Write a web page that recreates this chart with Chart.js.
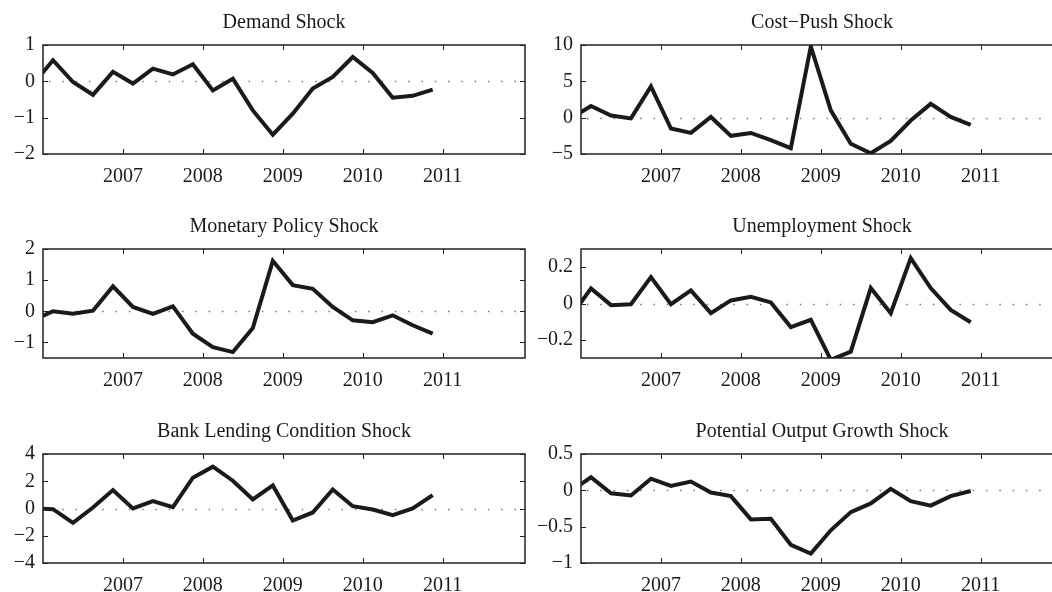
<!DOCTYPE html>
<html>
<head>
<meta charset="utf-8">
<title>Shock decomposition</title>
<script src="https://cdn.jsdelivr.net/npm/chart.js@4.4.1/dist/chart.umd.min.js"></script>
<style>
  html, body { margin: 0; padding: 0; background: #fff; }
  #figure { position: relative; width: 1052px; height: 592px; overflow: hidden; }
  #figure canvas { position: absolute; }
</style>
</head>
<body>
<div id="figure">
  <canvas id="demandChart" width="526" height="194" style="left:0px;top:0px"></canvas>
  <canvas id="costPushChart" width="526" height="194" style="left:538px;top:0px"></canvas>
  <canvas id="monetaryChart" width="526" height="194" style="left:0px;top:204px"></canvas>
  <canvas id="unemploymentChart" width="526" height="194" style="left:538px;top:204px"></canvas>
  <canvas id="bankLendingChart" width="526" height="194" style="left:0px;top:409px"></canvas>
  <canvas id="potentialChart" width="526" height="194" style="left:538px;top:409px"></canvas>
</div>
<script>
// quarter mid-points, first one sits just left of the axes
const quarters = [
  2005.875, 2006.125, 2006.375, 2006.625, 2006.875, 2007.125, 2007.375,
  2007.625, 2007.875, 2008.125, 2008.375, 2008.625, 2008.875, 2009.125,
  2009.375, 2009.625, 2009.875, 2010.125, 2010.375, 2010.625, 2010.875,
];
const yearTicks = [2007, 2008, 2009, 2010, 2011];

const demandShock = [-0.08, 0.58, -0.02, -0.37, 0.26, -0.06, 0.35, 0.19, 0.47, -0.25, 0.07, -0.8, -1.47, -0.89, -0.2, 0.12, 0.67, 0.23, -0.45, -0.4, -0.23];
const costPushShock = [-0.1, 1.6, 0.3, -0.1, 4.3, -1.5, -2.1, 0.1, -2.5, -2.1, -3.1, -4.2, 9.8, 1.0, -3.6, -4.9, -3.2, -0.4, 1.9, 0.1, -1.0];
const monetaryShock = [-0.29, 0.0, -0.08, 0.02, 0.8, 0.14, -0.08, 0.16, -0.72, -1.15, -1.31, -0.54, 1.62, 0.84, 0.72, 0.14, -0.29, -0.35, -0.13, -0.45, -0.72];
const unemploymentShock = [-0.07, 0.083, -0.009, -0.004, 0.145, -0.004, 0.072, -0.053, 0.017, 0.037, 0.006, -0.13, -0.09, -0.31, -0.265, 0.085, -0.053, 0.25, 0.085, -0.035, -0.103];
const bankLendingShock = [0.02, -0.05, -1.05, 0.07, 1.35, 0.0, 0.54, 0.1, 2.26, 3.07, 2.04, 0.66, 1.69, -0.88, -0.29, 1.4, 0.17, -0.07, -0.49, 0.0, 0.98];
const potentialShock = [-0.01, 0.18, -0.04, -0.07, 0.16, 0.06, 0.12, -0.03, -0.08, -0.4, -0.39, -0.75, -0.87, -0.55, -0.3, -0.18, 0.02, -0.15, -0.21, -0.08, -0.01];

const demandTicks = [-2, -1, 0, 1];
const costPushTicks = [-5, 0, 5, 10];
const monetaryTicks = [-1, 0, 1, 2];
const unemploymentTicks = [-0.2, 0, 0.2];
const bankLendingTicks = [-4, -2, 0, 2, 4];
const potentialTicks = [-1, -0.5, 0, 0.5];

const panels = [
  { id: "demandChart", title: "Demand Shock", values: demandShock, ticks: demandTicks, min: -2, max: 1 },
  { id: "costPushChart", title: "Cost\u2212Push Shock", values: costPushShock, ticks: costPushTicks, min: -5, max: 10 },
  { id: "monetaryChart", title: "Monetary Policy Shock", values: monetaryShock, ticks: monetaryTicks, min: -1.5, max: 2 },
  { id: "unemploymentChart", title: "Unemployment Shock", values: unemploymentShock, ticks: unemploymentTicks, min: -0.3, max: 0.3 },
  { id: "bankLendingChart", title: "Bank Lending Condition Shock", values: bankLendingShock, ticks: bankLendingTicks, min: -4, max: 4 },
  { id: "potentialChart", title: "Potential Output Growth Shock", values: potentialShock, ticks: potentialTicks, min: -1, max: 0.5 },
];

const INK = "#1a1a1a";
const FONT = { family: "'Liberation Serif', 'Times New Roman', serif", size: 20 };

// matlab style box: dotted zero line, frame and inward ticks
const boxPlugin = {
  id: "matlabBox",
  beforeDatasetsDraw(chart) {
    const { ctx, chartArea: a } = chart;
    const y0 = Math.round(chart.scales.y.getPixelForValue(0)) + 0.5;
    ctx.save();
    ctx.strokeStyle = "#777";
    ctx.lineWidth = 1.5;
    ctx.setLineDash([1.5, 11.8]);
    ctx.beginPath();
    ctx.moveTo(a.left + 6, y0);
    ctx.lineTo(a.right, y0);
    ctx.stroke();
    ctx.restore();
  },
  afterDatasetsDraw(chart) {
    const { ctx, chartArea: a, scales } = chart;
    const len = 5;
    ctx.save();
    ctx.strokeStyle = "#222";
    ctx.lineWidth = 1;
    ctx.beginPath();
    scales.x.ticks.forEach((t) => {
      const px = Math.round(scales.x.getPixelForValue(t.value)) + 0.5;
      ctx.moveTo(px, a.top);
      ctx.lineTo(px, a.top + len);
      ctx.moveTo(px, a.bottom);
      ctx.lineTo(px, a.bottom - len);
    });
    scales.y.ticks.forEach((t) => {
      const py = Math.round(scales.y.getPixelForValue(t.value)) + 0.5;
      ctx.moveTo(a.left, py);
      ctx.lineTo(a.left + len, py);
      ctx.moveTo(a.right, py);
      ctx.lineTo(a.right - len, py);
    });
    ctx.stroke();
    ctx.lineWidth = 1.5;
    ctx.strokeRect(a.left, a.top, a.right - a.left, a.bottom - a.top);
    ctx.restore();
  },
};

function formatTick(v) {
  return String(v).replace("-", "\u2212");
}

function buildPanel(panel) {
  const canvas = document.getElementById(panel.id);
  if (!canvas) return;

  return new Chart(canvas.getContext("2d"), {
    type: "line",
    data: {
      datasets: [
        {
          data: quarters.map((q, i) => ({ x: q, y: panel.values[i] })),
          borderColor: INK,
          borderWidth: 4,
          borderJoinStyle: "miter",
          pointRadius: 0,
          tension: 0,
          clip: 0,
        },
      ],
    },
    options: {
      responsive: false,
      animation: false,
      events: [],
      layout: { padding: { left: 0, right: 1, top: 0, bottom: 0 } },
      plugins: {
        legend: { display: false },
        tooltip: { enabled: false },
        title: {
          display: true,
          text: panel.title,
          fullSize: false,
          color: INK,
          font: { ...FONT, weight: "normal", lineHeight: 1.2 },
          padding: { top: 11, bottom: 10 },
        },
      },
      scales: {
        x: {
          type: "linear",
          min: 2006,
          max: 2012.03,
          grid: { display: false, drawTicks: false },
          border: { display: false },
          afterBuildTicks: (s) => {
            s.ticks = yearTicks.map((v) => ({ value: v }));
          },
          afterFit: (s) => {
            s.height = 40;
          },
          ticks: {
            color: INK,
            font: FONT,
            padding: 11,
            maxRotation: 0,
            autoSkip: false,
            callback: (v) => String(v),
          },
        },
        y: {
          type: "linear",
          min: panel.min,
          max: panel.max,
          grid: { display: false, drawTicks: false },
          border: { display: false },
          afterBuildTicks: (s) => {
            s.ticks = panel.ticks.map((v) => ({ value: v }));
          },
          afterFit: (s) => {
            s.width = 43;
          },
          ticks: {
            color: INK,
            font: FONT,
            padding: 8,
            autoSkip: false,
            callback: (v) => formatTick(v),
          },
        },
      },
    },
    plugins: [boxPlugin],
  });
}

document.addEventListener("DOMContentLoaded", function () {
  panels.forEach(buildPanel);
});
</script>
</body>
</html>
